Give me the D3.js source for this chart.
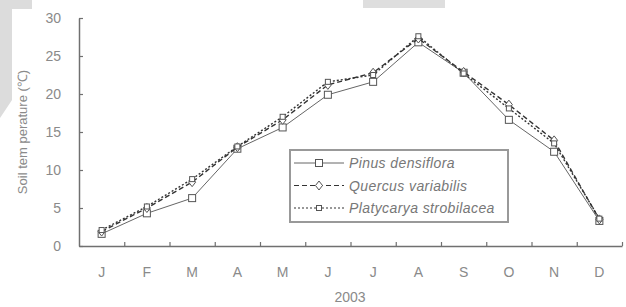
<!DOCTYPE html>
<html>
<head>
<meta charset="utf-8">
<script src="https://cdn.jsdelivr.net/npm/d3@7"></script>
<style>
  body { margin: 0; background: #fff; }
  svg { display: block; font-family: "Liberation Sans", Arial, sans-serif; }
</style>
</head>
<body>
<div id="chart"></div>
<script>
// monthly soil temperature, 2003
const months = ["J", "F", "M", "A", "M", "J", "J", "A", "S", "O", "N", "D"];
const pinus = [1.6, 4.3, 6.3, 12.8, 15.6, 19.9, 21.6, 26.8, 22.8, 16.6, 12.4, 3.3];
const quercus = [1.9, 5.0, 8.4, 13.0, 16.6, 21.2, 22.8, 27.3, 22.9, 18.6, 13.9, 3.5];
const platycarya = [2.1, 5.2, 8.8, 13.1, 17.0, 21.6, 22.5, 27.6, 22.7, 18.1, 13.5, 3.6];
const yTicks = [0, 5, 10, 15, 20, 25, 30];

const series = [
    { name: "Pinus densiflora", values: pinus, dash: null, marker: "square" },
    { name: "Quercus variabilis", values: quercus, dash: "5,3", marker: "diamond" },
    { name: "Platycarya strobilacea", values: platycarya, dash: "2,2", marker: "small" }
];

const width = 626, height = 307;
const margin = { left: 79, right: 622, top: 18, bottom: 246 };

const svg = d3.select("#chart").append("svg")
    .attr("width", width).attr("height", height);

// faint grey scan marks of the source page
svg.append("path")
    .attr("d", "M0,0 L32,0 L32,9 L12,9 L12,100 L0,118 Z")
    .attr("fill", "#dcdcdc");
svg.append("rect")
    .attr("x", 363).attr("y", 0).attr("width", 82).attr("height", 8)
    .attr("fill", "#dedede");

const x = d3.scaleBand().domain(d3.range(months.length)).range([margin.left, margin.right]).padding(0);
const xTick = d3.scaleLinear().domain([0, months.length]).range([margin.left, margin.right]);
const y = d3.scaleLinear().domain([0, 30]).range([margin.bottom, margin.top]);
const cx = i => x(i) + x.bandwidth() / 2;

const axisColor = "#707070";
const textColor = "#8a8a8a";

// y axis
const gy = svg.append("g").attr("transform", `translate(${margin.left},0)`)
    .call(d3.axisLeft(y).tickValues(yTicks).tickSizeInner(-4).tickSizeOuter(0).tickPadding(18));
gy.select(".domain").attr("stroke", axisColor).attr("stroke-width", 1.5);
gy.selectAll(".tick line").attr("stroke", axisColor).attr("stroke-width", 1.2);
gy.selectAll("text").attr("fill", textColor).attr("font-size", 14);

// x axis: ticks at month boundaries
const gx = svg.append("g").attr("transform", `translate(0,${margin.bottom})`)
    .call(d3.axisBottom(xTick).tickValues(d3.range(1, months.length + 1)).tickSizeInner(-4).tickSizeOuter(0).tickFormat(""));
gx.select(".domain").attr("stroke", axisColor).attr("stroke-width", 1.5);
gx.selectAll(".tick line").attr("stroke", axisColor).attr("stroke-width", 1.2);

const gxl = svg.append("g").attr("transform", `translate(0,${margin.bottom})`)
    .call(d3.axisBottom(x).tickSize(0).tickPadding(21).tickFormat(i => months[i]));
gxl.select(".domain").remove();
gxl.selectAll("text").attr("fill", textColor).attr("font-size", 14);

svg.append("text")
    .attr("x", 350).attr("y", 302)
    .attr("text-anchor", "middle")
    .attr("fill", textColor).attr("font-size", 14)
    .text("2003");

svg.append("text")
    .attr("transform", "translate(27,132) rotate(-90)")
    .attr("text-anchor", "middle")
    .attr("fill", textColor).attr("font-size", 13)
    .text("Soil tem perature (\u2103)");

function drawMarker(g, type, px, py) {
    if (type === "square") {
        g.append("rect").attr("x", px - 3.5).attr("y", py - 3.5).attr("width", 7).attr("height", 7)
            .attr("fill", "#fff").attr("stroke", "#555").attr("stroke-width", 1);
    } else if (type === "diamond") {
        g.append("path").attr("d", `M${px},${py - 4.5}L${px + 3.5},${py}L${px},${py + 4.5}L${px - 3.5},${py}Z`)
            .attr("fill", "#fff").attr("stroke", "#555").attr("stroke-width", 1);
    } else {
        g.append("rect").attr("x", px - 2.5).attr("y", py - 2.5).attr("width", 5).attr("height", 5)
            .attr("fill", "#fff").attr("stroke", "#555").attr("stroke-width", 1);
    }
}

const line = d3.line().x((d, i) => cx(i)).y(d => y(d));

series.forEach(s => {
    const g = svg.append("g");
    g.append("path")
        .attr("d", line(s.values))
        .attr("fill", "none")
        .attr("stroke", s.dash ? "#333" : "#666")
        .attr("stroke-width", s.dash ? 1.4 : 1)
        .attr("stroke-dasharray", s.dash);
    s.values.forEach((v, i) => drawMarker(g, s.marker, cx(i), y(v)));
});

// legend
const lg = svg.append("g");
lg.append("rect")
    .attr("x", 290).attr("y", 150).attr("width", 218).attr("height", 72)
    .attr("fill", "#fff").attr("stroke", "#999").attr("stroke-width", 2);
series.forEach((s, i) => {
    const ly = 163 + i * 22.5;
    lg.append("line")
        .attr("x1", 294).attr("x2", 344).attr("y1", ly).attr("y2", ly)
        .attr("stroke", s.dash ? "#333" : "#666")
        .attr("stroke-width", s.dash ? 1.2 : 1)
        .attr("stroke-dasharray", s.dash);
    drawMarker(lg, s.marker, 319, ly);
    lg.append("text")
        .attr("x", 349).attr("y", ly + 5)
        .attr("fill", "#777").attr("font-size", 14).attr("font-style", "italic")
        .attr("letter-spacing", 0.4)
        .text(s.name);
});
</script>
</body>
</html>
